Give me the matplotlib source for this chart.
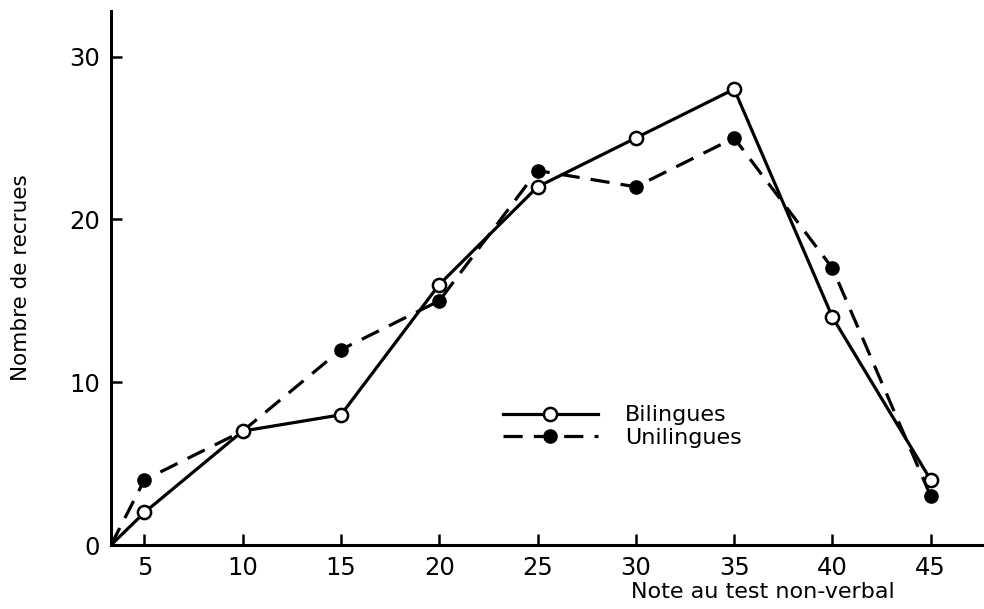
import numpy as np
import matplotlib
matplotlib.use('Agg')
import matplotlib.pyplot as plt

plt.rcParams['font.family'] = ['DejaVu Sans']

# data (first point is the origin corner)
notes = [3.3, 5, 10, 15, 20, 25, 30, 35, 40, 45]
bilingues = [0, 2, 7, 8, 16, 22, 25, 28, 14, 4]
unilingues = [0, 4, 7, 12, 15, 23, 22, 25, 17, 3]
xticks = [5, 10, 15, 20, 25, 30, 35, 40, 45]
yticks = [0, 10, 20, 30]

fig = plt.figure(figsize=(9.84, 6.09), dpi=100)
ax = fig.add_axes([0.1128, 0.105, 0.885, 0.877])

mk = range(1, len(notes))
ax.plot(notes, unilingues, color='black', lw=2.3, dashes=(6, 3.5),
        marker='o', ms=9.5, mfc='black', mec='black', markevery=mk,
        label='Unilingues', zorder=2)
ax.plot(notes, bilingues, color='black', lw=2.3, ls='-',
        marker='o', ms=9.5, mfc='white', mec='black', mew=1.8, markevery=mk,
        label='Bilingues', zorder=3)

ax.set_xlim(3.3, 47.6)
ax.set_ylim(0, 32.8)
ax.set_xticks(xticks)
ax.set_yticks(yticks)
ax.tick_params(direction='in', length=8, width=1.8, labelsize=17.5, pad=8)
for s in ['top', 'right']:
    ax.spines[s].set_visible(False)
for s in ['left', 'bottom']:
    ax.spines[s].set_linewidth(2.2)

ax.set_ylabel('Nombre de recrues', fontsize=15.5)
ax.yaxis.set_label_coords(-0.092, 0.5)
ax.set_xlabel('Note au test non-verbal', fontsize=16, va='center')
ax.xaxis.set_label_coords(0.748, -0.088)

h, l = ax.get_legend_handles_labels()
ax.legend(h[::-1], l[::-1], loc='center', bbox_to_anchor=(0.587, 0.222),
          frameon=False, fontsize=16, handlelength=4.3, handletextpad=1.2,
          labelspacing=0.1)

fig.savefig('out.png', dpi=100)
